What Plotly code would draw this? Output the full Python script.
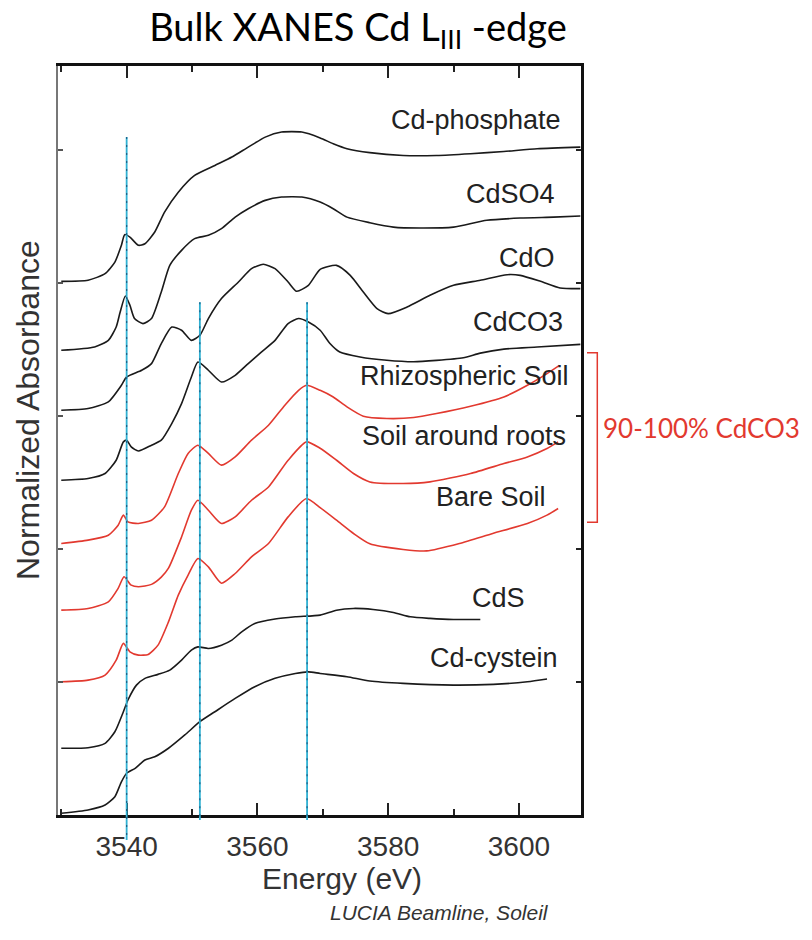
import plotly.graph_objects as go

# ---------------- data (energy in eV, normalized absorbance with vertical offsets) ----------------
phosphate_e = [3530.0, 3534.1, 3536.7, 3538.2, 3539.2, 3539.7, 3540.5, 3541.8, 3542.8, 3544.3, 3545.8, 3547.9,
               3550.4, 3553.5, 3556.1, 3558.6, 3561.2, 3563.7, 3566.8, 3569.6, 3571.6, 3573.7, 3577.2, 3582.3,
               3587.4, 3592.6, 3597.7, 3602.8, 3609.4]
phosphate_y = [4.015, 4.023, 4.073, 4.160, 4.286, 4.366, 4.348, 4.286, 4.298, 4.386, 4.536, 4.686,
               4.812, 4.887, 4.950, 5.025, 5.100, 5.138, 5.138, 5.094, 5.050, 5.013, 4.983, 4.962,
               4.962, 4.975, 4.992, 5.013, 5.025]

cdso4_e = [3530.0, 3535.1, 3537.2, 3538.4, 3539.0, 3539.8, 3540.5, 3541.2, 3542.5, 3543.8, 3545.3, 3546.6,
           3548.4, 3550.4, 3552.5, 3554.5, 3556.6, 3558.6, 3561.2, 3563.7, 3566.8, 3569.6, 3571.6, 3573.7,
           3577.2, 3580.8, 3584.9, 3590.0, 3595.1, 3600.2, 3605.3, 3609.4]
cdso4_y = [3.496, 3.521, 3.571, 3.671, 3.782, 3.905, 3.835, 3.735, 3.697, 3.735, 3.935, 4.135,
           4.248, 4.336, 4.361, 4.411, 4.498, 4.561, 4.624, 4.649, 4.649, 4.611, 4.561, 4.498,
           4.456, 4.423, 4.416, 4.423, 4.474, 4.491, 4.498, 4.506]

cdo_e = [3530.0, 3534.1, 3537.2, 3539.2, 3540.0, 3542.3, 3543.8, 3545.3, 3546.9, 3548.4, 3549.9, 3551.2,
         3552.5, 3554.5, 3557.1, 3559.1, 3560.9, 3562.7, 3564.7, 3566.0, 3567.8, 3569.6, 3572.1, 3574.2,
         3576.2, 3578.3, 3580.0, 3582.9, 3586.4, 3590.0, 3594.1, 3598.2, 3600.2, 3603.3, 3606.3, 3609.4]
cdo_y = [3.045, 3.058, 3.108, 3.233, 3.296, 3.346, 3.396, 3.547, 3.671, 3.647, 3.571, 3.609,
         3.735, 3.885, 4.010, 4.111, 4.143, 4.111, 4.010, 3.940, 3.985, 4.105, 4.135, 4.060,
         3.935, 3.810, 3.772, 3.822, 3.910, 3.985, 4.023, 4.065, 4.060, 4.015, 3.965, 3.960]

cdco3_e = [3530.0, 3534.1, 3536.7, 3538.4, 3539.5, 3540.0, 3540.7, 3541.8, 3543.8, 3545.3, 3546.9, 3548.4,
           3549.9, 3550.9, 3552.5, 3554.5, 3556.6, 3558.6, 3560.6, 3562.7, 3564.7, 3566.3, 3567.8, 3569.6,
           3571.1, 3572.6, 3575.7, 3579.8, 3583.9, 3587.4, 3591.5, 3594.1, 3597.7, 3602.8, 3609.4]
cdco3_y = [2.519, 2.532, 2.569, 2.669, 2.807, 2.820, 2.769, 2.739, 2.782, 2.820, 2.945, 3.095,
           3.295, 3.408, 3.346, 3.258, 3.308, 3.396, 3.483, 3.571, 3.697, 3.735, 3.709, 3.647,
           3.547, 3.483, 3.446, 3.421, 3.410, 3.420, 3.440, 3.475, 3.505, 3.521, 3.541]

rhizo_e = [3530.0, 3534.1, 3537.2, 3538.7, 3539.5, 3540.2, 3541.8, 3543.8, 3545.8, 3547.9, 3549.4, 3550.9,
           3552.5, 3554.5, 3556.6, 3559.1, 3561.7, 3564.2, 3566.3, 3567.5, 3569.6, 3571.6, 3573.7, 3576.2,
           3579.8, 3583.9, 3587.4, 3592.6, 3597.7, 3601.3, 3604.3, 3606.2]
rhizo_y = [2.043, 2.068, 2.105, 2.180, 2.256, 2.205, 2.193, 2.218, 2.318, 2.569, 2.720, 2.782,
           2.720, 2.632, 2.694, 2.820, 2.932, 3.083, 3.195, 3.233, 3.195, 3.145, 3.070, 3.000,
           2.983, 2.990, 3.020, 3.075, 3.145, 3.233, 3.321, 3.383]

roots_e = [3530.0, 3534.1, 3537.2, 3538.7, 3539.6, 3540.7, 3541.8, 3543.8, 3545.3, 3546.4, 3548.4, 3549.9,
           3550.9, 3552.5, 3554.5, 3556.6, 3559.1, 3561.7, 3564.7, 3567.5, 3569.6, 3572.1, 3574.7, 3577.2,
           3582.3, 3586.4, 3592.6, 3597.7, 3601.3, 3604.3, 3606.0]
roots_y = [1.541, 1.554, 1.604, 1.705, 1.792, 1.729, 1.717, 1.735, 1.790, 1.857, 2.092, 2.293,
           2.368, 2.293, 2.193, 2.243, 2.368, 2.468, 2.669, 2.807, 2.759, 2.669, 2.569, 2.506,
           2.494, 2.506, 2.569, 2.644, 2.694, 2.757, 2.807]

bare_e = [3530.0, 3534.1, 3536.7, 3538.4, 3539.5, 3540.5, 3541.8, 3543.3, 3544.8, 3546.4, 3547.9, 3549.4,
          3550.9, 3552.5, 3554.5, 3556.6, 3559.1, 3561.7, 3564.7, 3567.5, 3569.6, 3572.1, 3574.7, 3577.2,
          3582.3, 3585.9, 3590.9, 3596.0, 3601.3, 3604.3, 3606.0]
bare_y = [1.002, 1.015, 1.053, 1.165, 1.291, 1.228, 1.203, 1.208, 1.278, 1.453, 1.654, 1.805,
          1.930, 1.867, 1.744, 1.817, 1.942, 2.043, 2.243, 2.381, 2.312, 2.218, 2.118, 2.040,
          1.998, 1.987, 2.043, 2.118, 2.193, 2.256, 2.306]

cds_e = [3530.0, 3534.1, 3536.7, 3538.2, 3539.5, 3540.2, 3541.5, 3542.8, 3544.8, 3546.6, 3548.4, 3549.9,
         3550.9, 3552.5, 3554.5, 3556.1, 3557.6, 3559.6, 3562.7, 3565.8, 3569.6, 3572.1, 3574.7, 3577.7,
         3580.8, 3583.4, 3586.4, 3590.0, 3594.1]
cds_y = [0.502, 0.506, 0.539, 0.626, 0.777, 0.865, 0.977, 1.028, 1.058, 1.090, 1.165, 1.241,
         1.265, 1.253, 1.278, 1.316, 1.378, 1.441, 1.474, 1.491, 1.504, 1.541, 1.554, 1.546,
         1.524, 1.491, 1.479, 1.471, 1.471]

cyst_e = [3530.0, 3534.1, 3536.7, 3538.2, 3539.2, 3540.0, 3541.3, 3542.8, 3544.3, 3546.4, 3548.9, 3551.2,
          3553.5, 3556.6, 3559.6, 3562.7, 3565.8, 3567.8, 3569.6, 3573.7, 3577.2, 3582.3, 3590.0, 3596.1,
          3601.3, 3604.3]
cyst_y = [0.013, 0.038, 0.075, 0.138, 0.250, 0.314, 0.351, 0.414, 0.438, 0.502, 0.602, 0.702,
          0.777, 0.877, 0.965, 1.028, 1.065, 1.077, 1.065, 1.040, 1.008, 0.990, 0.977, 0.983,
          1.002, 1.023]

series_names = ["Cd-phosphate", "CdSO4", "CdO", "CdCO3", "Rhizospheric Soil",
                "Soil around roots", "Bare Soil", "CdS", "Cd-cystein"]
label_e = [3606.8, 3605.9, 3605.8, 3607.1, 3608.0, 3607.5, 3604.5, 3601.3, 3606.3]
label_y = [5.23, 4.67, 4.19, 3.71, 3.30, 2.85, 2.39, 1.63, 1.18]

feature_energies = [3540.0, 3551.2, 3567.6]
feature_tops = [5.10, 3.857, 3.857]

x_ticks = [3540, 3560, 3580, 3600]
x_minor = [3530, 3550, 3570, 3590]
y_ticks = [1, 2, 3, 4, 5]

# ---------------- styling / layout ----------------
W, H = 812, 940
L, R, T, B = 58, 581, 66, 815
X_RANGE = [3529.5, 3609.5]
Y_RANGE = [0, 5.635]
BLACK = "#1a1a1a"
RED = "#e2392f"
CYAN = "#2fb0d2"
ARIAL = "Liberation Sans, Arial"

def pxx(px):
    return (px - L) / (R - L)

def pxy(py):
    return (B - py) / (B - T)

def ex_paper(e):
    return (e - X_RANGE[0]) / (X_RANGE[1] - X_RANGE[0])

series = [
    (phosphate_e, phosphate_y, BLACK), (cdso4_e, cdso4_y, BLACK), (cdo_e, cdo_y, BLACK),
    (cdco3_e, cdco3_y, BLACK), (rhizo_e, rhizo_y, RED), (roots_e, roots_y, RED),
    (bare_e, bare_y, RED), (cds_e, cds_y, BLACK), (cyst_e, cyst_y, BLACK),
]

fig = go.Figure()
for (xs, ys, col), name in zip(series, series_names):
    fig.add_trace(go.Scatter(x=xs, y=ys, mode="lines", name=name,
                             line=dict(color=col, width=1.6, shape="spline", smoothing=0.6),
                             hoverinfo="skip"))
# invisible trace so that the right-hand axis is drawn
fig.add_trace(go.Scatter(x=[X_RANGE[0]], y=[Y_RANGE[0]], yaxis="y2", mode="markers",
                         marker=dict(size=1, opacity=0), showlegend=False, hoverinfo="skip"))

shapes = []
bottoms_px = [840, 820, 820]
for e, top, bpx in zip(feature_energies, feature_tops, bottoms_px):
    xp = ex_paper(e)
    y0 = top / Y_RANGE[1]
    shapes.append(dict(type="line", xref="paper", yref="paper", x0=xp, x1=xp, y0=y0, y1=pxy(bpx),
                       line=dict(color=CYAN, width=1.8), layer="above"))
    shapes.append(dict(type="line", xref="paper", yref="paper", x0=xp, x1=xp, y0=y0, y1=pxy(bpx),
                       line=dict(color="#1d5f86", width=1.2, dash="2px,6px"), layer="above"))

# red bracket
shapes.append(dict(type="path", xref="paper", yref="paper",
                   path=f"M {pxx(587)} {pxy(352.7)} L {pxx(597.3)} {pxy(352.7)} "
                        f"L {pxx(597.3)} {pxy(522.3)} L {pxx(587)} {pxy(522.3)}",
                   line=dict(color=RED, width=1.5)))

annotations = []
for name, ex, ey in zip(series_names, label_e, label_y):
    annotations.append(dict(x=ex, y=ey, xref="x", yref="y", text=name, showarrow=False,
                            xanchor="right", yanchor="middle",
                            font=dict(family=ARIAL, size=27, color="#222")))
annotations += [
    dict(x=pxx(342), y=pxy(879), xref="paper", yref="paper", text="Energy (eV)", showarrow=False,
         xanchor="center", yanchor="middle", font=dict(family=ARIAL, size=30, color="#333")),
    dict(x=pxx(28), y=pxy(410), xref="paper", yref="paper", text="Normalized Absorbance", showarrow=False,
         textangle=-90, xanchor="center", yanchor="middle",
         font=dict(family=ARIAL, size=32, color="#333")),
    dict(x=pxx(551), y=pxy(912), xref="paper", yref="paper", text="<i>LUCIA Beamline, Soleil</i>",
         showarrow=False, xanchor="right", yanchor="middle",
         font=dict(family=ARIAL, size=21, color="#333")),
    dict(x=pxx(601), y=pxy(428), xref="paper", yref="paper", text="90-100% CdCO3", showarrow=False,
         xanchor="left", yanchor="middle", font=dict(family="Lato, Open Sans", size=26, color=RED)),
]

fig.update_layout(
    width=W, height=H, margin=dict(l=L, r=W - R, t=T, b=H - B),
    paper_bgcolor="white", plot_bgcolor="white", showlegend=False,
    title=dict(text="Bulk XANES Cd L<sub>III</sub> -edge", x=358 / W, xanchor="center",
               y=1 - 28 / H, yanchor="middle", font=dict(family="Lato, Open Sans", size=38, color="black")),
    xaxis=dict(range=X_RANGE, tickvals=x_ticks, ticks="inside", ticklen=12, tickwidth=1.5, tickcolor="#222",
               minor=dict(tickvals=x_minor, ticks="inside", ticklen=6, tickwidth=1.5, tickcolor="#222"),
               showline=True, linecolor="#111", linewidth=2.5, mirror="ticks", showgrid=False,
               zeroline=False, tickfont=dict(family=ARIAL, size=28, color="#333"),
               ticklabelstandoff=5),
    yaxis=dict(range=Y_RANGE, tickvals=y_ticks, ticks="inside", ticklen=5, tickwidth=1.5, tickcolor="#555",
               showticklabels=False, showline=True, linecolor="#777", linewidth=2, showgrid=False,
               zeroline=False),
    yaxis2=dict(range=Y_RANGE, overlaying="y", side="right", tickvals=y_ticks, ticks="inside", ticklen=5,
                tickwidth=1.5, tickcolor="#222", showticklabels=False, showline=True, linecolor="#111",
                linewidth=3, showgrid=False, zeroline=False),
    shapes=shapes, annotations=annotations,
)

fig.write_html("out.html")
